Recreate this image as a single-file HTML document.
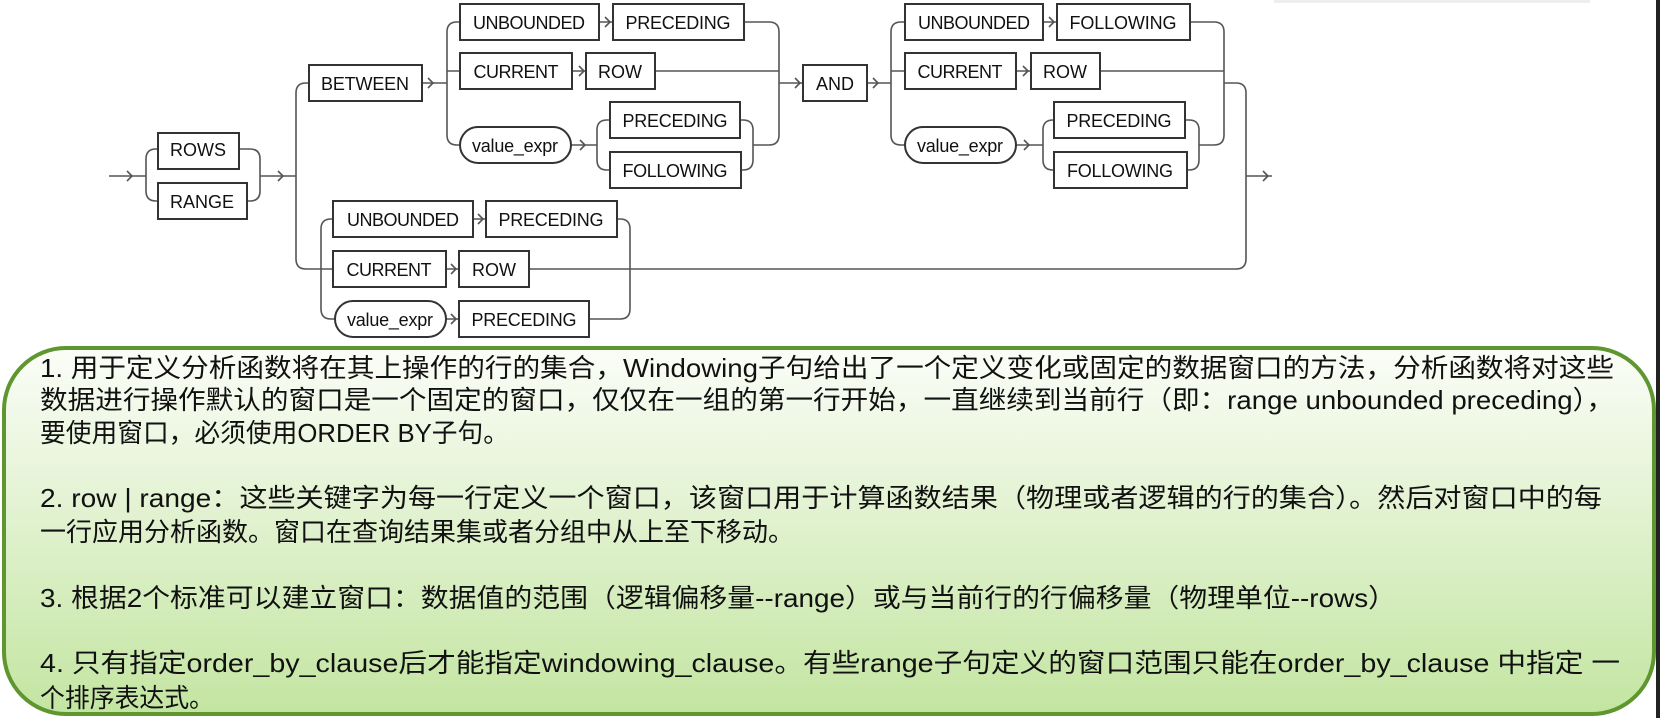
<!DOCTYPE html>
<html><head><meta charset="utf-8"><style>
html,body{margin:0;padding:0;background:#fff;width:1660px;height:718px;overflow:hidden}
svg{display:block}
.b{fill:#fff;stroke:#333;stroke-width:2}
.l{fill:none;stroke:#555;stroke-width:1.6}
.t{font-family:"Liberation Sans",Arial,sans-serif;font-size:18px;fill:#111;text-anchor:middle}
.z{font-family:"Liberation Sans","Noto Sans CJK SC",sans-serif;font-size:26px;fill:#111}
</style></head><body>
<svg width="1660" height="718" viewBox="0 0 1660 718" xmlns="http://www.w3.org/2000/svg">
<defs><linearGradient id="g" x1="0" y1="0" x2="0" y2="1"><stop offset="0" stop-color="#fbfdf8"/><stop offset="1" stop-color="#c3e5a1"/></linearGradient></defs>
<rect x="1274" y="0" width="316" height="3" fill="#eee"/>
<rect x="1656" y="0" width="4" height="718" fill="#222"/>
<g class="l">
<path d="M109 176 H146 M146 176 V159 Q146 149 156 149 H158 M146 176 V191 Q146 201 156 201 H158"/>
<path d="M239 149 H250 Q260 149 260 159 V176 M247 201 H250 Q260 201 260 191 V176 M260 176 H296"/>
<path d="M296 176 V93 Q296 83 306 83 H309 M296 176 V259 Q296 269 306 269 H333"/>
<path d="M422 83 H447 M447 83 V32 Q447 22 457 22 H460 M447 71 H460 M447 83 V135 Q447 145 457 145 H460"/>
<path d="M599 22 H613 M572 71 H586 M571 145 H597 M597 145 V130 Q597 120 607 120 H610 M597 145 V160 Q597 170 607 170 H610"/>
<path d="M740 120 H743 Q753 120 753 130 V145 M741 170 H743 Q753 170 753 160 V145 M753 145 H769 Q779 145 779 135 V83"/>
<path d="M744 22 H769 Q779 22 779 32 V83 M655 71 H779 M779 83 H803"/>
<path d="M867 83 H891 M891 83 V32 Q891 22 901 22 H905 M891 71 H905 M891 83 V135 Q891 145 901 145 H905"/>
<path d="M1043 22 H1057 M1016 71 H1031 M1016 145 H1043 M1043 145 V130 Q1043 120 1053 120 H1054 M1043 145 V160 Q1043 170 1053 170 H1054"/>
<path d="M1185 120 H1189 Q1199 120 1199 130 V145 M1187 170 H1189 Q1199 170 1199 160 V145 M1199 145 H1214 Q1224 145 1224 135 V83"/>
<path d="M1190 22 H1214 Q1224 22 1224 32 V83 M1100 71 H1224 M1224 83 H1236 Q1246 83 1246 93 V259 Q1246 269 1236 269 H529"/>
<path d="M1246 176 H1272"/>
<path d="M321 269 V229 Q321 219 331 219 H333 M321 269 V309 Q321 319 331 319 H335"/>
<path d="M473 219 H486 M446 269 H459 M446 319 H459 M617 219 H620 Q630 219 630 229 V309 Q630 319 620 319 H589"/>
<path d="M127 171 L132 176 L127 181 M278 171 L283 176 L278 181 M428 78 L433 83 L428 88 M605 17 L610 22 L605 27 M579 66 L584 71 L579 76 M580 140 L585 145 L580 150 M795 78 L800 83 L795 88 M873 78 L878 83 L873 88 M1049 17 L1054 22 L1049 27 M1023 66 L1028 71 L1023 76 M1024 140 L1029 145 L1024 150 M1263 171 L1268 176 L1263 181 M478 214 L483 219 L478 224 M451 264 L456 269 L451 274 M451 314 L456 319 L451 324"/>
</g>
<rect class="b" x="158" y="133" width="81" height="36"/><text class="t" x="198" y="156">ROWS</text>
<rect class="b" x="158" y="183" width="89" height="36"/><text class="t" x="202" y="208">RANGE</text>
<rect class="b" x="309" y="65" width="113" height="36"/><text class="t" x="365" y="90" textLength="88">BETWEEN</text>
<rect class="b" x="460" y="4" width="139" height="36"/><text class="t" x="529" y="29" textLength="112">UNBOUNDED</text>
<rect class="b" x="613" y="4" width="131" height="36"/><text class="t" x="678" y="29" textLength="105">PRECEDING</text>
<rect class="b" x="460" y="53" width="112" height="36"/><text class="t" x="516" y="78" textLength="85">CURRENT</text>
<rect class="b" x="586" y="53" width="69" height="36"/><text class="t" x="620" y="78">ROW</text>
<rect class="b" x="460" y="127" width="111" height="36" rx="18"/><text class="t" x="515" y="152" textLength="86">value_expr</text>
<rect class="b" x="610" y="102" width="130" height="36"/><text class="t" x="675" y="127" textLength="105">PRECEDING</text>
<rect class="b" x="610" y="152" width="131" height="36"/><text class="t" x="675" y="177" textLength="105">FOLLOWING</text>
<rect class="b" x="803" y="65" width="64" height="36"/><text class="t" x="835" y="90">AND</text>
<rect class="b" x="905" y="4" width="138" height="36"/><text class="t" x="974" y="29" textLength="112">UNBOUNDED</text>
<rect class="b" x="1057" y="4" width="133" height="36"/><text class="t" x="1123" y="29" textLength="107">FOLLOWING</text>
<rect class="b" x="905" y="53" width="111" height="36"/><text class="t" x="960" y="78" textLength="85">CURRENT</text>
<rect class="b" x="1031" y="53" width="69" height="36"/><text class="t" x="1065" y="78">ROW</text>
<rect class="b" x="905" y="127" width="111" height="36" rx="18"/><text class="t" x="960" y="152" textLength="86">value_expr</text>
<rect class="b" x="1054" y="102" width="131" height="36"/><text class="t" x="1119" y="127" textLength="105">PRECEDING</text>
<rect class="b" x="1054" y="152" width="133" height="36"/><text class="t" x="1120" y="177" textLength="106">FOLLOWING</text>
<rect class="b" x="333" y="201" width="140" height="36"/><text class="t" x="403" y="226" textLength="112">UNBOUNDED</text>
<rect class="b" x="486" y="201" width="131" height="36"/><text class="t" x="551" y="226" textLength="105">PRECEDING</text>
<rect class="b" x="333" y="251" width="113" height="36"/><text class="t" x="389" y="276" textLength="85">CURRENT</text>
<rect class="b" x="459" y="251" width="70" height="36"/><text class="t" x="494" y="276">ROW</text>
<rect class="b" x="335" y="301" width="111" height="36" rx="18"/><text class="t" x="390" y="326" textLength="86">value_expr</text>
<rect class="b" x="459" y="301" width="130" height="36"/><text class="t" x="524" y="326" textLength="105">PRECEDING</text>
<rect x="4" y="348" width="1650" height="366" rx="62" ry="62" fill="url(#g)" stroke="#5f9630" stroke-width="4"/>
<g class="z" xml:space="preserve">
<text x="40" y="377" textLength="1574" lengthAdjust="spacingAndGlyphs">1. 用于定义分析函数将在其上操作的行的集合，Windowing子句给出了一个定义变化或固定的数据窗口的方法，分析函数将对这些</text>
<text x="40" y="409" textLength="1574" lengthAdjust="spacingAndGlyphs">数据进行操作默认的窗口是一个固定的窗口，仅仅在一组的第一行开始，一直继续到当前行（即：range unbounded preceding），</text>
<text x="40" y="442" textLength="469" lengthAdjust="spacingAndGlyphs">要使用窗口，必须使用ORDER BY子句。</text>
<text x="40" y="507" textLength="1562" lengthAdjust="spacingAndGlyphs">2. row | range：这些关键字为每一行定义一个窗口，该窗口用于计算函数结果（物理或者逻辑的行的集合）。然后对窗口中的每</text>
<text x="40" y="541">一行应用分析函数。窗口在查询结果集或者分组中从上至下移动。</text>
<text x="40" y="607" textLength="1356" lengthAdjust="spacingAndGlyphs">3. 根据2个标准可以建立窗口：数据值的范围（逻辑偏移量--range）或与当前行的行偏移量（物理单位--rows）</text>
<text x="40" y="672" textLength="1580" lengthAdjust="spacingAndGlyphs">4. 只有指定order_by_clause后才能指定windowing_clause。有些range子句定义的窗口范围只能在order_by_clause   中指定  一</text>
<text x="40" y="707" textLength="174" lengthAdjust="spacingAndGlyphs">个排序表达式。</text>
</g>
</svg>
</body></html>
